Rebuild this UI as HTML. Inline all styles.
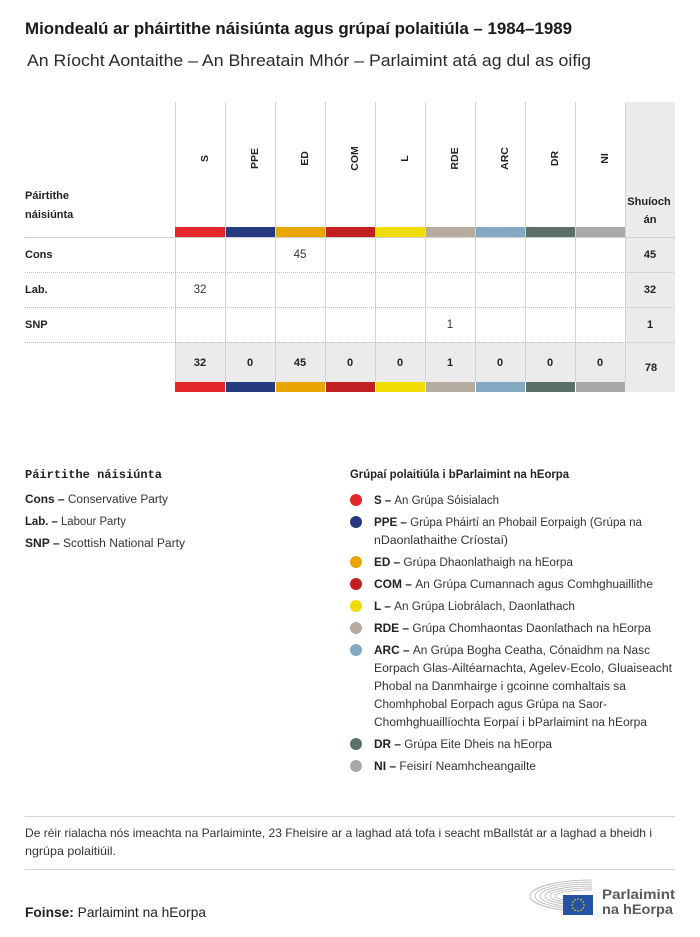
<!DOCTYPE html>
<html>
<head>
<meta charset="utf-8">
<style>
  html,body{margin:0;padding:0;background:#fff;}
  svg{display:block;}
  text{font-family:"Liberation Sans",sans-serif;}
  .mono{font-family:"Liberation Mono",monospace;font-weight:bold;}
</style>
</head>
<body>
<svg width="700" height="937" viewBox="0 0 700 937" xmlns="http://www.w3.org/2000/svg">
  <defs>
    <clipPath id="hemi"><rect x="520" y="870" width="72" height="50"/></clipPath>
  </defs>
  <rect width="700" height="937" fill="#fff"/>

  <!-- Title -->
  <text x="25" y="34" font-size="17" font-weight="bold" fill="#1a1a1a" textLength="547" lengthAdjust="spacingAndGlyphs">Miondealú ar pháirtithe náisiúnta agus grúpaí polaitiúla – 1984–1989</text>
  <text x="27" y="66" font-size="17" fill="#2a2a2a" textLength="564" lengthAdjust="spacingAndGlyphs">An Ríocht Aontaithe – An Bhreatain Mhór – Parlaimint atá ag dul as oifig</text>

  <!-- gray backgrounds -->
  <rect x="625" y="102" width="50" height="290" fill="#ebebeb"/>
  <rect x="175" y="342" width="450" height="40" fill="#ebebeb"/>

  <!-- vertical column lines -->
  <g stroke="#d2d2d2" stroke-width="1">
    <line x1="175.5" y1="102" x2="175.5" y2="392"/>
    <line x1="225.5" y1="102" x2="225.5" y2="382"/>
    <line x1="275.5" y1="102" x2="275.5" y2="382"/>
    <line x1="325.5" y1="102" x2="325.5" y2="382"/>
    <line x1="375.5" y1="102" x2="375.5" y2="382"/>
    <line x1="425.5" y1="102" x2="425.5" y2="382"/>
    <line x1="475.5" y1="102" x2="475.5" y2="382"/>
    <line x1="525.5" y1="102" x2="525.5" y2="382"/>
    <line x1="575.5" y1="102" x2="575.5" y2="382"/>
    <line x1="625.5" y1="102" x2="625.5" y2="382"/>
  </g>

  <!-- header rotated labels -->
  <g font-size="10.5" font-weight="bold" fill="#222" text-anchor="middle">
    <text transform="translate(208,158.5) rotate(-90)">S</text>
    <text transform="translate(258,158.5) rotate(-90)">PPE</text>
    <text transform="translate(308,158.5) rotate(-90)">ED</text>
    <text transform="translate(358,158.5) rotate(-90)">COM</text>
    <text transform="translate(408,158.5) rotate(-90)">L</text>
    <text transform="translate(458,158.5) rotate(-90)">RDE</text>
    <text transform="translate(508,158.5) rotate(-90)">ARC</text>
    <text transform="translate(558,158.5) rotate(-90)">DR</text>
    <text transform="translate(608,158.5) rotate(-90)">NI</text>
  </g>

  <g font-size="11" font-weight="bold" fill="#222">
    <text x="25" y="199">Páirtithe</text>
    <text x="25" y="218">náisiúnta</text>
    <text x="649" y="205" text-anchor="middle">Shuíoch</text>
    <text x="650" y="223" text-anchor="middle">án</text>
  </g>

  <!-- top color bars -->
  <g>
    <rect x="175" y="227" width="50" height="10" fill="#e3262a"/>
    <rect x="226" y="227" width="49" height="10" fill="#263a80"/>
    <rect x="276" y="227" width="49" height="10" fill="#e9a500"/>
    <rect x="326" y="227" width="49" height="10" fill="#c11f22"/>
    <rect x="376" y="227" width="49" height="10" fill="#f0dc00"/>
    <rect x="426" y="227" width="49" height="10" fill="#b5ab9e"/>
    <rect x="476" y="227" width="49" height="10" fill="#83a9c3"/>
    <rect x="526" y="227" width="49" height="10" fill="#5b7069"/>
    <rect x="576" y="227" width="49" height="10" fill="#a9a9a9"/>
  </g>

  <!-- header bottom line -->
  <line x1="25" y1="237.5" x2="675" y2="237.5" stroke="#cfcfcf" stroke-width="1"/>

  <!-- dotted row separators -->
  <g stroke="#bdbdbd" stroke-width="1" stroke-dasharray="1,1">
    <line x1="25" y1="272.5" x2="675" y2="272.5"/>
    <line x1="25" y1="307.5" x2="675" y2="307.5"/>
    <line x1="25" y1="342.5" x2="675" y2="342.5"/>
  </g>

  <!-- rows -->
  <g font-size="11" font-weight="bold" fill="#222">
    <text x="25" y="258">Cons</text>
    <text x="25" y="293">Lab.</text>
    <text x="25" y="328">SNP</text>
  </g>
  <g font-size="11.5" fill="#333" text-anchor="middle">
    <text x="300" y="258">45</text>
    <text x="200" y="293">32</text>
    <text x="450" y="328">1</text>
  </g>
  <g font-size="11" font-weight="bold" fill="#222" text-anchor="middle">
    <text x="650" y="258">45</text>
    <text x="650" y="293">32</text>
    <text x="650" y="328">1</text>
  </g>

  <!-- totals -->
  <g font-size="11" font-weight="bold" fill="#222" text-anchor="middle">
    <text x="200" y="366">32</text>
    <text x="250" y="366">0</text>
    <text x="300" y="366">45</text>
    <text x="350" y="366">0</text>
    <text x="400" y="366">0</text>
    <text x="450" y="366">1</text>
    <text x="500" y="366">0</text>
    <text x="550" y="366">0</text>
    <text x="600" y="366">0</text>
    <text x="651" y="371">78</text>
  </g>

  <!-- bottom color bars -->
  <g>
    <rect x="175" y="382" width="50" height="10" fill="#e3262a"/>
    <rect x="226" y="382" width="49" height="10" fill="#263a80"/>
    <rect x="276" y="382" width="49" height="10" fill="#e9a500"/>
    <rect x="326" y="382" width="49" height="10" fill="#c11f22"/>
    <rect x="376" y="382" width="49" height="10" fill="#f0dc00"/>
    <rect x="426" y="382" width="49" height="10" fill="#b5ab9e"/>
    <rect x="476" y="382" width="49" height="10" fill="#83a9c3"/>
    <rect x="526" y="382" width="49" height="10" fill="#5b7069"/>
    <rect x="576" y="382" width="49" height="10" fill="#a9a9a9"/>
  </g>

  <!-- Left legend -->
  <text x="25" y="478" class="mono" font-size="12" fill="#222" textLength="137" lengthAdjust="spacingAndGlyphs">Páirtithe náisiúnta</text>
  <g font-size="11.5" fill="#333">
    <text x="25" y="503" textLength="143" lengthAdjust="spacingAndGlyphs"><tspan font-weight="bold" fill="#222">Cons – </tspan>Conservative Party</text>
    <text x="25" y="525" textLength="101" lengthAdjust="spacingAndGlyphs"><tspan font-weight="bold" fill="#222">Lab. – </tspan>Labour Party</text>
    <text x="25" y="547" textLength="160" lengthAdjust="spacingAndGlyphs"><tspan font-weight="bold" fill="#222">SNP – </tspan>Scottish National Party</text>
  </g>

  <!-- Right legend -->
  <text x="350" y="478" font-size="11.5" font-weight="bold" fill="#222" textLength="219" lengthAdjust="spacingAndGlyphs">Grúpaí polaitiúla i bParlaimint na hEorpa</text>
  <g>
    <circle cx="356" cy="500" r="6" fill="#e3262a"/>
    <circle cx="356" cy="522" r="6" fill="#263a80"/>
    <circle cx="356" cy="562" r="6" fill="#e9a500"/>
    <circle cx="356" cy="584" r="6" fill="#c11f22"/>
    <circle cx="356" cy="606" r="6" fill="#f0dc00"/>
    <circle cx="356" cy="628" r="6" fill="#b5ab9e"/>
    <circle cx="356" cy="650" r="6" fill="#83a9c3"/>
    <circle cx="356" cy="744" r="6" fill="#5b7069"/>
    <circle cx="356" cy="766" r="6" fill="#a9a9a9"/>
  </g>
  <g font-size="11.5" fill="#333">
    <text x="374" y="504" textLength="125" lengthAdjust="spacingAndGlyphs"><tspan font-weight="bold" fill="#222">S – </tspan>An Grúpa Sóisialach</text>
    <text x="374" y="526" textLength="268" lengthAdjust="spacingAndGlyphs"><tspan font-weight="bold" fill="#222">PPE – </tspan>Grúpa Pháirtí an Phobail Eorpaigh (Grúpa na</text>
    <text x="374" y="544" textLength="134" lengthAdjust="spacingAndGlyphs">nDaonlathaithe Críostaí)</text>
    <text x="374" y="566" textLength="199" lengthAdjust="spacingAndGlyphs"><tspan font-weight="bold" fill="#222">ED – </tspan>Grúpa Dhaonlathaigh na hEorpa</text>
    <text x="374" y="588" textLength="279" lengthAdjust="spacingAndGlyphs"><tspan font-weight="bold" fill="#222">COM – </tspan>An Grúpa Cumannach agus Comhghuaillithe</text>
    <text x="374" y="610" textLength="201" lengthAdjust="spacingAndGlyphs"><tspan font-weight="bold" fill="#222">L – </tspan>An Grúpa Liobrálach, Daonlathach</text>
    <text x="374" y="632" textLength="277" lengthAdjust="spacingAndGlyphs"><tspan font-weight="bold" fill="#222">RDE – </tspan>Grúpa Chomhaontas Daonlathach na hEorpa</text>
    <text x="374" y="654" textLength="276" lengthAdjust="spacingAndGlyphs"><tspan font-weight="bold" fill="#222">ARC – </tspan>An Grúpa Bogha Ceatha, Cónaidhm na Nasc</text>
    <text x="374" y="672" textLength="298" lengthAdjust="spacingAndGlyphs">Eorpach Glas-Ailtéarnachta, Agelev-Ecolo, Gluaiseacht</text>
    <text x="374" y="690" textLength="252" lengthAdjust="spacingAndGlyphs">Phobal na Danmhairge i gcoinne comhaltais sa</text>
    <text x="374" y="708" textLength="233" lengthAdjust="spacingAndGlyphs">Chomhphobal Eorpach agus Grúpa na Saor-</text>
    <text x="374" y="726" textLength="273" lengthAdjust="spacingAndGlyphs">Chomhghuaillíochta Eorpaí i bParlaimint na hEorpa</text>
    <text x="374" y="748" textLength="178" lengthAdjust="spacingAndGlyphs"><tspan font-weight="bold" fill="#222">DR – </tspan>Grúpa Eite Dheis na hEorpa</text>
    <text x="374" y="770" textLength="162" lengthAdjust="spacingAndGlyphs"><tspan font-weight="bold" fill="#222">NI – </tspan>Feisirí Neamhcheangailte</text>
  </g>

  <!-- Footnote -->
  <line x1="25" y1="816.5" x2="675" y2="816.5" stroke="#d5d5d5" stroke-width="1"/>
  <text x="25" y="837" font-size="12" fill="#333" textLength="627" lengthAdjust="spacingAndGlyphs">De réir rialacha nós imeachta na Parlaiminte, 23 Fheisire ar a laghad atá tofa i seacht mBallstát ar a laghad a bheidh i</text>
  <text x="25" y="855" font-size="12" fill="#333" textLength="91" lengthAdjust="spacingAndGlyphs">ngrúpa polaitiúil.</text>
  <line x1="25" y1="869.5" x2="675" y2="869.5" stroke="#d5d5d5" stroke-width="1"/>

  <text x="25" y="917" font-size="14" fill="#222" textLength="181" lengthAdjust="spacingAndGlyphs"><tspan font-weight="bold">Foinse:</tspan> Parlaimint na hEorpa</text>

  <!-- Logo -->
  <g fill="none" stroke="#b0b0b0" stroke-width="0.8" clip-path="url(#hemi)">
    <ellipse cx="592" cy="896" rx="62" ry="16"/>
    <ellipse cx="592" cy="896" rx="57" ry="14"/>
    <ellipse cx="592" cy="896" rx="52" ry="12"/>
    <ellipse cx="592" cy="896" rx="47" ry="10"/>
    <ellipse cx="592" cy="896" rx="42" ry="8"/>
    <ellipse cx="592" cy="896" rx="37" ry="6"/>
  </g>
  <rect x="563" y="895" width="30" height="20" fill="#2453a4"/>
  <g fill="#f2d200">
    <circle cx="578" cy="899" r="0.8"/>
    <circle cx="581" cy="899.8" r="0.8"/>
    <circle cx="583.2" cy="902" r="0.8"/>
    <circle cx="584" cy="905" r="0.8"/>
    <circle cx="583.2" cy="908" r="0.8"/>
    <circle cx="581" cy="910.2" r="0.8"/>
    <circle cx="578" cy="911" r="0.8"/>
    <circle cx="575" cy="910.2" r="0.8"/>
    <circle cx="572.8" cy="908" r="0.8"/>
    <circle cx="572" cy="905" r="0.8"/>
    <circle cx="572.8" cy="902" r="0.8"/>
    <circle cx="575" cy="899.8" r="0.8"/>
  </g>
  <text x="602" y="899" font-size="13.5" font-weight="bold" fill="#5a5a5a" textLength="73" lengthAdjust="spacingAndGlyphs">Parlaimint</text>
  <text x="602" y="914" font-size="13.5" font-weight="bold" fill="#5a5a5a" textLength="71" lengthAdjust="spacingAndGlyphs">na hEorpa</text>
</svg>
</body>
</html>
